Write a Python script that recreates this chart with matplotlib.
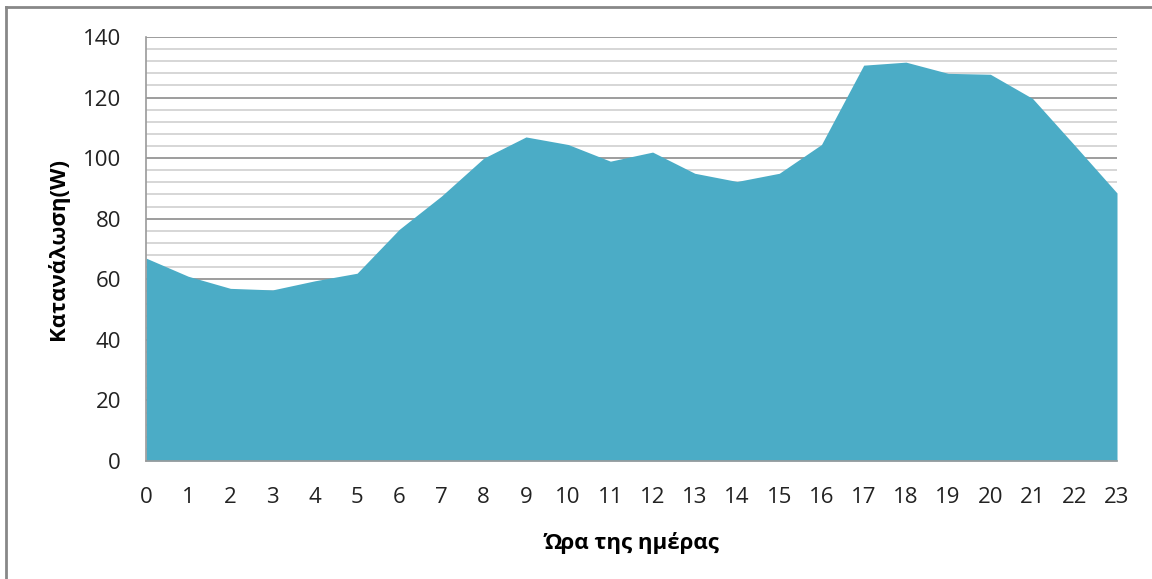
import numpy as np
import matplotlib
matplotlib.use('Agg')
import matplotlib.pyplot as plt
from matplotlib.lines import Line2D

hours = list(range(24))
power = [67, 61, 57, 56.5, 59.5, 62, 76.5, 87.5, 100, 107, 104.5, 99,
         102, 95, 92.3, 95, 104.5, 130.7, 131.7, 128, 127.7, 119.7, 104.2, 88.5]

xlabel = 'Ώρα της ημέρας'
ylabel = 'Κατανάλωση(W)'

plt.rcParams['font.family'] = ['Open Sans', 'DejaVu Sans']

fig = plt.figure(figsize=(11.52, 5.79), dpi=100)
ax = fig.add_axes([146 / 1152, 1 - 461 / 579, (1117 - 146) / 1152, (461 - 37) / 579])

ax.fill_between(hours, power, 0, color='#4BACC6', linewidth=0, zorder=3)

ax.set_xlim(0, 23)
ax.set_ylim(0, 140)
ax.set_xticks(hours)
ax.set_yticks(np.arange(0, 141, 20))
ax.set_yticks(np.arange(0, 141, 4), minor=True)
ax.yaxis.grid(True, which='major', color='#8C8C8C', linewidth=1.2, zorder=1)
ax.yaxis.grid(True, which='minor', color='#D0D0D0', linewidth=1.2, zorder=1)
ax.set_axisbelow(True)

for s in ['top', 'right']:
    ax.spines[s].set_visible(False)
for s in ['left', 'bottom']:
    ax.spines[s].set_color('#9A9A9A')
    ax.spines[s].set_linewidth(1.2)
    ax.spines[s].set_zorder(4)

ax.tick_params(axis='both', which='both', length=0, labelsize=16, colors='#222222')
ax.tick_params(axis='x', pad=19)
ax.tick_params(axis='y', pad=18)

ax.set_xlabel(xlabel, fontsize=16, fontweight='bold', labelpad=17)
ax.set_ylabel(ylabel, fontsize=16, fontweight='bold', labelpad=10)

# outer frame (top and left edges only visible in the crop)
fig.add_artist(Line2D([6 / 1152, 1], [1 - 6.5 / 579, 1 - 6.5 / 579],
                      transform=fig.transFigure, color='#888888', linewidth=2))
fig.add_artist(Line2D([6 / 1152, 6 / 1152], [0, 1 - 6.5 / 579],
                      transform=fig.transFigure, color='#888888', linewidth=2))

fig.savefig('out.png', dpi=100)
